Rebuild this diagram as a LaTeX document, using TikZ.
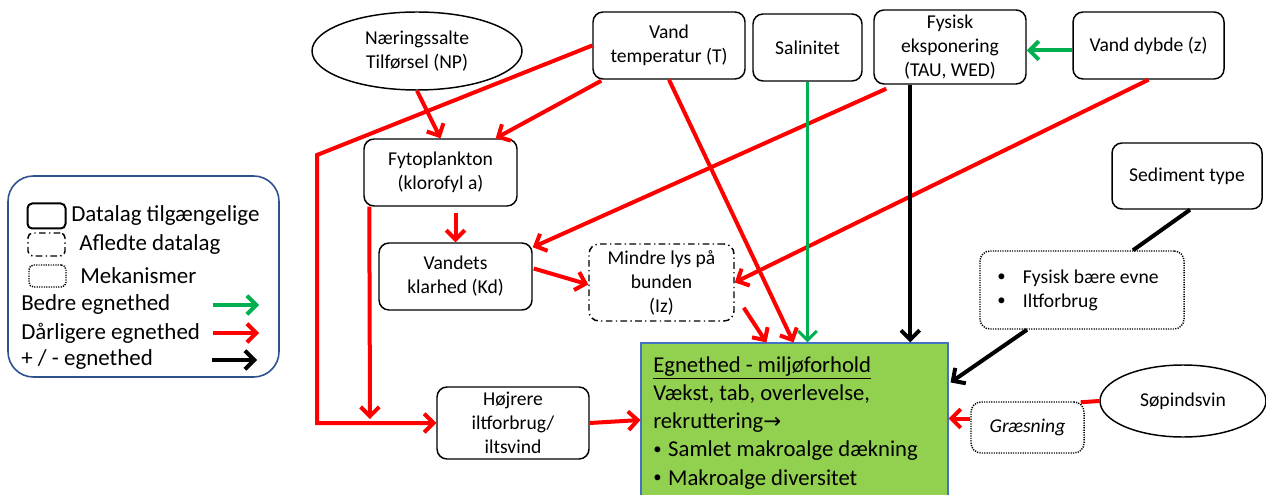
\documentclass[tikz,border=0pt]{standalone}
\usepackage{fontspec}
\setmainfont{Carlito}
\newfontfamily\dejavu{DejaVu Sans}
\usetikzlibrary{arrows.meta,calc,shapes.geometric}
\definecolor{lred}{RGB}{255,0,0}
\definecolor{lgreen}{RGB}{0,176,80}
\definecolor{egnfill}{RGB}{146,208,80}
\definecolor{egnborder}{RGB}{68,114,196}
\definecolor{legborder}{RGB}{47,82,143}
\newcommand{\smbul}{\raisebox{0.1em}{\fontsize{12.5}{12}\selectfont•}}
\begin{document}
\begin{tikzpicture}[x=0.75pt,y=-0.75pt,
  every node/.style={font=\fontsize{14.7}{18}\selectfont, align=center, inner sep=0pt},
  databox/.style 2 args={draw, line width=1.1pt, rounded corners=7.5pt, minimum width=#1*0.75pt, minimum height=#2*0.75pt},
  derivbox/.style 2 args={draw, line width=1.1pt, rounded corners=7.5pt, dash pattern=on 5pt off 2.5pt on 1pt off 2.5pt, minimum width=#1*0.75pt, minimum height=#2*0.75pt},
  mechbox/.style 2 args={draw, line width=1.1pt, rounded corners=7.5pt, dash pattern=on 0.9pt off 0.9pt, minimum width=#1*0.75pt, minimum height=#2*0.75pt},
  ovalbox/.style 2 args={draw, ellipse, line width=1.1pt, minimum width=#1*0.75pt, minimum height=#2*0.75pt},
  smallcorner/.style={rounded corners=3.5pt},
  tipb/.tip={Straight Barb[length=7pt,width=14pt]},
  redarr/.style={draw=lred, line width=3pt, -tipb},
  redline/.style={draw=lred, line width=3pt},
  greenarr/.style={draw=lgreen, line width=3pt, -tipb},
  blackarr/.style={draw=black, line width=3pt, -tipb},
  blackline/.style={draw=black, line width=3pt},
  legfont/.style={font=\fontsize{17.2}{21}\selectfont},
]
\useasboundingbox (0,0) rectangle (1266,495);

% ---------- legend ----------
\node[draw=legborder, line width=1.2pt, rounded corners=19pt, minimum width=271*0.75pt, minimum height=201*0.75pt] (legend) at (143.5,276.5) {};
\node[databox={38}{25}, smallcorner, line width=1.5pt] (lg1) at (46.5,216) {};
\node[derivbox={37}{23}, smallcorner] (lg2) at (46.5,244.5) {};
\node[mechbox={37}{22}, smallcorner] (lg3) at (47.5,276) {};
\node[legfont, anchor=west] (lt1) at (71,216) {Datalag tilgængelige};
\node[legfont, anchor=west] (lt2) at (79,245) {Afledte datalag};
\node[legfont, anchor=west] (lt3) at (80,276) {Mekanismer};
\node[legfont, anchor=west] (lt4) at (21,305) {Bedre egnethed};
\node[legfont, anchor=west] (lt5) at (21,333) {Dårligere egnethed};
\node[legfont, anchor=west] (lt6) at (21,360) {+ / - egnethed};
\coordinate (la1) at (213,305); \coordinate (lb1) at (259,305);
\coordinate (la2) at (213,333); \coordinate (lb2) at (259,333);
\coordinate (la3) at (212,360); \coordinate (lb3) at (257,360);
\draw[greenarr] (la1) -- (lb1);
\draw[redarr] (la2) -- (lb2);
\draw[blackarr] (la3) -- (lb3);

% ---------- nodes ----------
\node[ovalbox={210}{78}] (np) at (417,51) {Næringssalte\\Tilførsel (NP)};
\node[databox={152}{67}] (vt) at (669,45.5) {Vand\\temperatur (T)};
\node[databox={109}{67}] (sal) at (807.5,47.5) {Salinitet};
\node[databox={152}{74}] (fys) at (950,47) {Fysisk\\eksponering\\(TAU, WED)};
\node[databox={151}{67}] (vd) at (1148.5,45.5) {Vand dybde (z)};
\node[databox={150}{66}] (sed) at (1187,176) {Sediment type};
\node[databox={153}{67}] (fyt) at (440.5,172.5) {Fytoplankton\\(klorofyl a)};
\node[databox={153}{67}] (kd) at (455.5,276.5) {Vandets\\klarhed (Kd)};
\node[derivbox={145}{77}] (iz) at (661.5,282.5) {Mindre lys på\\bunden\\(Iz)};
\node[databox={152}{72}] (hoj) at (513,423) {Højrere\\iltforbrug/\\iltsvind};
\node[draw=egnborder, fill=egnfill, line width=0.8pt, minimum width=307*0.75pt, minimum height=154*0.75pt] (egn) at (794.5,420) {};
\node[anchor=north west, align=left, font=\fontsize{17}{21.2}\selectfont] (egntxt) at (653,356)
  {\underline{Egnethed - miljøforhold}\\Vækst, tab, overlevelse,\\rekruttering{\dejavu\fontsize{16}{21}\selectfont →}\\\smbul\hspace{5pt}Samlet makroalge dækning\\\smbul\hspace{5pt}Makroalge diversitet};
\node[mechbox={204}{78}] (mek) at (1082,290) {};
\node[anchor=west, align=left] (mektxt) at (997,290) {\smbul\hspace{13pt}Fysisk bære evne\\\smbul\hspace{13pt}Iltforbrug};
\node[ovalbox={166}{72}] (sop) at (1183,401) {Søpindsvin};
\node[mechbox={113}{51}] (gr) at (1027.5,427.5) {\textit{Græsning}};

% ---------- connectors ----------
\coordinate (c1) at (317,155);
\draw[redarr] (vt.west) -- (c1) |- (hoj.west);
\coordinate (j2) at (370,419);
\draw[redarr] ($(fyt.south west)+(6,0)$) -- (j2);
\draw[redarr] (np.south) -- (fyt.north);
\draw[redarr] ($(vt.south west)+(9,1)$) -- ($(fyt.north east)+(-22,0)$);
\draw[redarr] (vt.south) -- ($(egn.north)+(-1,0)$);
\coordinate (f6) at ($(kd.north |- fyt.south)+(0,6)$);
\draw[redarr] (f6) -- (kd.north);
\draw[redarr] ($(fys.south west)+(13,4)$) -- ($(kd.north east)+(0,5)$);
\draw[redarr] (vd.south) -- (iz.east);
\draw[redarr] ($(kd.east)+(1,-8)$) -- ($(iz.west)+(0,2)$);
\draw[redarr] ($(iz.south east)+(9,-14)$) -- ($(egn.north west)+(126,0)$);
\draw[redarr] (hoj.east) -- (egn.west);
\draw[greenarr, line width=2.3pt] (sal.south) -- (sal.south |- egn.north);
\coordinate (b13) at ($(fys.south west)+(37,0)$);
\draw[blackarr] (b13) -- (b13 |- egn.north);
\coordinate (g14) at ($(vd.west)+(0,5)$);
\draw[greenarr] (g14) -- (g14 -| fys.east);
\draw[blackline] ($(sed.south)+(3,0)$) -- ($(mek.north)+(51,0)$);
\draw[blackarr] ($(mek.south)+(-55,0)$) -- ($(egn.north east)+(2,40)$);
\draw[redline] (sop.west) -- ($(gr.north east)+(-4,1)$);
\coordinate (r18) at ($(gr.west)+(0,-9)$);
\draw[redarr] (r18) -- (r18 -| egn.east);
\end{tikzpicture}
\end{document}
